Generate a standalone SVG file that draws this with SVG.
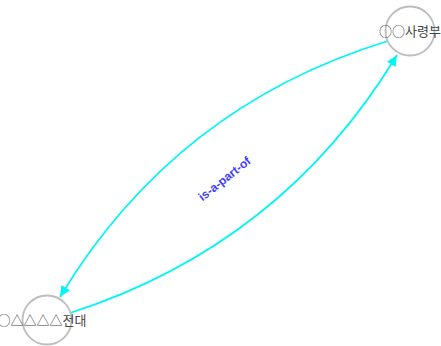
<svg xmlns="http://www.w3.org/2000/svg" width="441" height="346" viewBox="0 0 441 346">
<defs>
<style>
.edge{fill:none;stroke:#00f5f5;stroke-width:1.8}
.node circle{fill:none;stroke:#bdbdbd;stroke-width:1.8}
.node text{font-family:"Noto Sans CJK KR","Noto Sans",sans-serif;font-size:13px;fill:#444;text-anchor:middle}
.elabel{font-family:"Liberation Sans",Arial,sans-serif;font-size:12px;font-weight:bold;fill:#3c3cff;text-anchor:middle}
</style>
<marker id="arr" markerUnits="userSpaceOnUse" markerWidth="12" markerHeight="10" refX="11" refY="5" orient="auto" viewBox="0 0 12 10">
<path d="M0,0 L11,5 L0,10 z" fill="#00f5f5"/>
</marker>
</defs>
<rect width="441" height="346" fill="#fff"/>
<g id="edges">
<path class="edge" d="M388,41 Q175,106 60,297" marker-end="url(#arr)"/>
<path class="edge" d="M70,313 Q282,245 397,55" marker-end="url(#arr)"/>
<text class="elabel" transform="translate(227,182) rotate(-38.5)">is-a-part-of</text>
</g>
<g id="node-hq" class="node">
<circle cx="410" cy="31" r="24.5"/>
<text x="410" y="36">○○사령부</text>
</g>
<g id="node-wing" class="node">
<circle cx="47" cy="320" r="24.5"/>
<text x="42" y="325">○△△△△전대</text>
</g>
</svg>
